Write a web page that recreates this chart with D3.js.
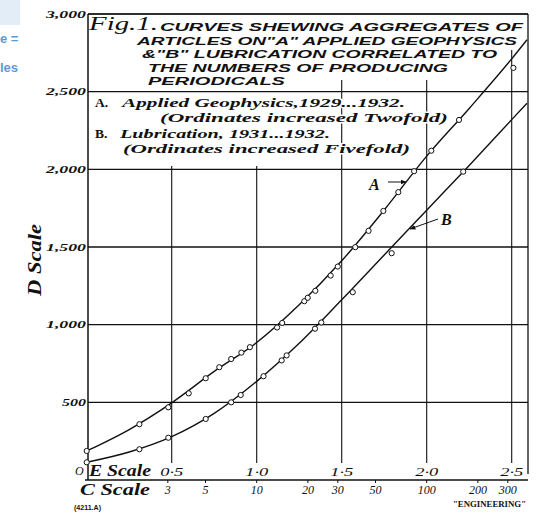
<!DOCTYPE html>
<html><head><meta charset="utf-8">
<script src="https://cdn.jsdelivr.net/npm/d3@7"></script>
<style>
html,body{margin:0;padding:0;background:#fff;}
svg{display:block;}
</style></head>
<body>
<script>
// ---- data (E scale = log10 of number of periodicals; D scale = aggregate articles, scaled) ----
const pointsA_E = [0,0.31,0.48,0.60,0.70,0.78,0.85,0.91,0.96,1.12,1.15,1.28,1.30,1.345,1.435,1.477,1.58,1.658,1.745,1.833,1.926,2.027,2.19,2.51];
const pointsA_D = [187,359,468,558,655,726,779,820,855,982,1011,1151,1173,1218,1316,1374,1499,1604,1732,1853,1988,2120,2318,2653];
const pointsB_E = [0,0.31,0.48,0.70,0.85,0.906,1.04,1.147,1.176,1.343,1.38,1.565,1.794,2.215];
const pointsB_D = [114,198,272,393,500,547,668,770,802,974,1014,1209,1460,1985];
// smooth fitted curves
const curveE  = [0,0.25,0.5,0.75,1.0,1.25,1.5,1.75,2.0,2.25,2.5,2.59];
const curveA_D = [187,325,497,699,885,1128,1411,1738,2085,2392,2711,2834];
const curveB_D = [114,180,279,429,635,880,1160,1449,1737,2025,2320,2426];
// axes
const dTicks = [500,1000,1500,2000,2500,3000];
const dTickLabels = ["500","1,000","1,500","2,000","2,500","3,000"];
const eTicks = [0.5,1.0,1.5,2.0,2.5];
const eTickLabels = ["0·5","1·0","1·5","2·0","2·5"];
const cTicks = [3,5,10,20,30,50,100,200,300];
const titleLines = ['CURVES SHEWING AGGREGATES OF','ARTICLES ON"A" APPLIED GEOPHYSICS','&"B" LUBRICATION CORRELATED TO','THE NUMBERS OF PRODUCING','PERIODICALS'];
const legendLines = ['Applied Geophysics,1929...1932.','(Ordinates increased Twofold)','Lubrication, 1931...1932.','(Ordinates increased Fivefold)'];

(function(){
// ---- layout ----
const W = 539, H = 514;
const pL = 88, pR = 528, pT = 14, pB = 480;
const svg = d3.select("body").append("svg").attr("width", W).attr("height", H);

const x = d3.scaleLinear().domain([0, 2.5]).range([86.7, 511.7]);
const xC = d3.scaleLog().domain([1, 10]).range([x(0), x(1)]);
const y = d3.scaleLinear().domain([0, 3000]).range([pB, pT]);

const serif = "'Liberation Serif','DejaVu Serif',serif";
const sans = "'Liberation Sans','DejaVu Sans',sans-serif";

// cropped fragment at top-left
svg.append("rect").attr("x",0).attr("y",0).attr("width",20).attr("height",25).attr("fill","#e3edf8");
svg.append("text").attr("x",0).attr("y",43).text("e =").attr("fill","#5b9bd5")
  .style("font-family",sans).style("font-weight","bold").style("font-size","13px");
svg.append("text").attr("x",0).attr("y",72).text("les").attr("fill","#5b9bd5")
  .style("font-family",sans).style("font-weight","bold").style("font-size","13px");

const ink = "#111";
// horizontal grid lines
svg.append("g").selectAll("line").data(dTicks).join("line")
  .attr("x1", pL).attr("x2", pR).attr("y1", d => y(d)).attr("y2", d => y(d))
  .attr("stroke", ink).attr("stroke-width", d => d===1500 ? 1.6 : 1.1);
// vertical grid lines (interrupted by title / legend)
const vTop = e => e >= 2.5 ? 50 : (e >= 1.5 ? 80 : 166);
svg.append("g").selectAll("line").data(eTicks).join("line")
  .attr("x1", d => x(d)).attr("x2", d => x(d)).attr("y1", d => vTop(d)).attr("y2", 463)
  .attr("stroke", ink).attr("stroke-width", 1.1);
// frame
svg.append("line").attr("x1",pL).attr("x2",pL).attr("y1",pT).attr("y2",pB).attr("stroke",ink).attr("stroke-width",1.5);
svg.append("line").attr("x1",pR).attr("x2",pR).attr("y1",pT).attr("y2",pB-6).attr("stroke",ink).attr("stroke-width",1.3);
svg.append("line").attr("x1",pL).attr("x2",pR).attr("y1",pT).attr("y2",pT).attr("stroke",ink).attr("stroke-width",1.3);
svg.append("line").attr("x1",pL-3).attr("x2",pR).attr("y1",pB).attr("y2",pB).attr("stroke",ink).attr("stroke-width",1.5);

// Y tick labels
svg.append("g").selectAll("text").data(dTicks).join("text")
  .attr("x", 86).attr("y", d => y(d)+3.5).attr("text-anchor","end")
  .attr("textLength", (d,i) => dTickLabels[i].length*8).attr("lengthAdjust","spacingAndGlyphs")
  .text((d,i) => dTickLabels[i])
  .style("font-family",serif).style("font-style","italic").style("font-weight","bold").style("font-size","10px").attr("fill",ink);
svg.append("text").attr("x",75).attr("y",475).text("O")
  .style("font-family",serif).style("font-style","italic").style("font-size","12px").attr("fill",ink);
svg.append("text").attr("transform","translate(41,260) rotate(-90)").attr("text-anchor","middle")
  .attr("textLength",72).attr("lengthAdjust","spacingAndGlyphs").text("D Scale")
  .style("font-family",serif).style("font-style","italic").style("font-weight","bold").style("font-size","18px").attr("fill",ink);

// E scale
svg.append("text").attr("x",89).attr("y",476).attr("textLength",62).attr("lengthAdjust","spacingAndGlyphs").text("E Scale")
  .style("font-family",serif).style("font-style","italic").style("font-weight","bold").style("font-size","16px").attr("fill",ink);
svg.append("g").selectAll("text").data(eTicks).join("text")
  .attr("x", d => x(d)).attr("y", 476).attr("text-anchor","middle")
  .attr("textLength",23).attr("lengthAdjust","spacingAndGlyphs")
  .text((d,i) => eTickLabels[i])
  .style("font-family",serif).style("font-style","italic").style("font-size","12px").attr("fill",ink);

// C scale
svg.append("g").selectAll("line").data(cTicks).join("line")
  .attr("x1", d => xC(d)).attr("x2", d => xC(d)).attr("y1", pB).attr("y2", pB+3)
  .attr("stroke", ink).attr("stroke-width", 1);
svg.append("text").attr("x",80).attr("y",495).attr("textLength",70).attr("lengthAdjust","spacingAndGlyphs").text("C Scale")
  .style("font-family",serif).style("font-style","italic").style("font-weight","bold").style("font-size","16px").attr("fill",ink);
svg.append("g").selectAll("text").data(cTicks).join("text")
  .attr("x", d => xC(d)).attr("y", 494).attr("text-anchor","middle")
  .text(d => d)
  .style("font-family",serif).style("font-style","italic").style("font-size","12px").attr("fill",ink);
svg.append("text").attr("x",74).attr("y",510).text("(4211.A)")
  .attr("textLength",27).attr("lengthAdjust","spacingAndGlyphs")
  .style("font-family",sans).style("font-weight","bold").style("font-size","8px").attr("fill",ink);
svg.append("text").attr("x",453).attr("y",507).text('"ENGINEERING"')
  .attr("textLength",73).attr("lengthAdjust","spacingAndGlyphs")
  .style("font-family",serif).style("font-weight","bold").style("font-size","9px").attr("fill",ink);

// title
svg.append("text").attr("x",89).attr("y",30).attr("textLength",69).attr("lengthAdjust","spacingAndGlyphs").text("Fig.1.")
  .style("font-family",serif).style("font-style","italic").style("font-size","18px").attr("fill",ink);
const tPos = [[160,31,363],[137,45,380],[142,58.3,355],[148,71.6,300],[148,85,137]];
svg.append("g").selectAll("text").data(titleLines).join("text")
  .attr("x",(d,i)=>tPos[i][0]).attr("y",(d,i)=>tPos[i][1])
  .attr("textLength",(d,i)=>tPos[i][2]).attr("lengthAdjust","spacingAndGlyphs")
  .text(d=>d)
  .style("font-family",sans).style("font-style","italic").style("font-weight","bold").style("font-size","11.5px").attr("fill",ink);

// legend
svg.append("text").attr("x",95).attr("y",107).text("A.").style("font-family",serif).style("font-weight","bold").style("font-size","13.5px").attr("fill",ink);
svg.append("text").attr("x",95).attr("y",138).text("B.").style("font-family",serif).style("font-weight","bold").style("font-size","13.5px").attr("fill",ink);
const lPos = [[122,107,283],[160,122,288],[120,138,210],[123,153,287]];
svg.append("g").selectAll("text").data(legendLines).join("text")
  .attr("x",(d,i)=>lPos[i][0]).attr("y",(d,i)=>lPos[i][1])
  .attr("textLength",(d,i)=>lPos[i][2]).attr("lengthAdjust","spacingAndGlyphs")
  .text(d=>d)
  .attr("stroke","#fff").attr("stroke-width",3).attr("paint-order","stroke")
  .style("font-family",serif).style("font-style","italic").style("font-weight","bold").style("font-size","13.5px").attr("fill",ink);

// curves
svg.append("clipPath").attr("id","plotclip").append("rect").attr("x",pL).attr("y",pT).attr("width",pR-pL+1).attr("height",pB-pT);
const line = d3.line().x(d=>x(d[0])).y(d=>y(d[1])).curve(d3.curveMonotoneX);
const g = svg.append("g").attr("clip-path","url(#plotclip)");
g.append("path").attr("d", line(curveE.map((e,i)=>[e,curveA_D[i]]))).attr("fill","none").attr("stroke",ink).attr("stroke-width",1.4);
g.append("path").attr("d", line(curveE.map((e,i)=>[e,curveB_D[i]]))).attr("fill","none").attr("stroke",ink).attr("stroke-width",1.4);

// points
const pts = pointsA_E.map((e,i)=>[e,pointsA_D[i]]).concat(pointsB_E.map((e,i)=>[e,pointsB_D[i]]));
svg.append("g").selectAll("circle").data(pts).join("circle")
  .attr("cx",d=>x(d[0])).attr("cy",d=>y(d[1])).attr("r",2.6)
  .attr("fill","#fff").attr("stroke",ink).attr("stroke-width",1);

// curve labels with arrows
svg.append("defs").append("marker").attr("id","ah").attr("viewBox","0 0 10 10").attr("refX",9).attr("refY",5)
  .attr("markerWidth",6).attr("markerHeight",6).attr("orient","auto")
  .append("path").attr("d","M0,1 L10,5 L0,9 z").attr("fill",ink);
svg.append("text").attr("x",369).attr("y",190).text("A").style("font-family",serif).style("font-style","italic").style("font-weight","bold").style("font-size","16px").attr("fill",ink);
svg.append("line").attr("x1",388).attr("y1",182).attr("x2",406).attr("y2",182).attr("stroke",ink).attr("stroke-width",1).attr("marker-end","url(#ah)");
svg.append("text").attr("x",441).attr("y",225).text("B").style("font-family",serif).style("font-style","italic").style("font-weight","bold").style("font-size","16px").attr("fill",ink);
svg.append("line").attr("x1",438).attr("y1",219).attr("x2",410).attr("y2",229).attr("stroke",ink).attr("stroke-width",1).attr("marker-end","url(#ah)");
})();
</script>
</body></html>
